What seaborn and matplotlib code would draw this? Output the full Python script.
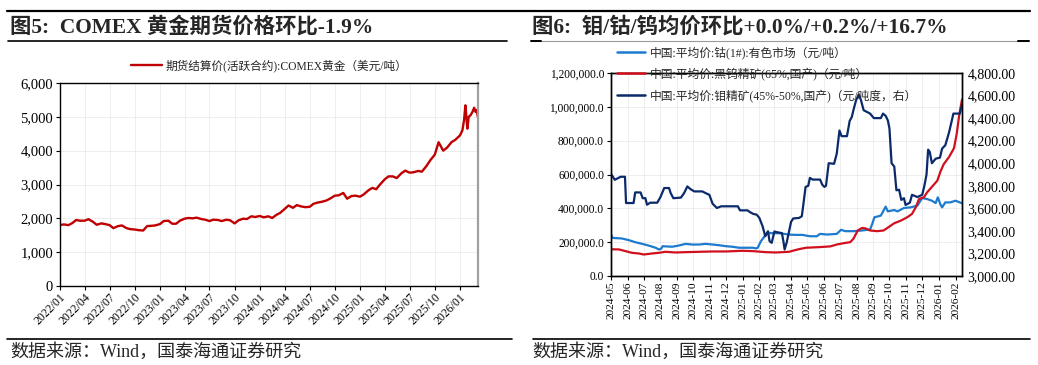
import matplotlib
matplotlib.use('Agg')
import matplotlib.pyplot as plt
import matplotlib.dates as mdates
from matplotlib.lines import Line2D
from matplotlib.ticker import FuncFormatter, MultipleLocator
import seaborn as sns
import pandas as pd

# --- Data: COMEX gold futures (readings at 1st / 15th of month, denser in 2026) ---
gold_dates = list(pd.date_range('2022-01-01', '2025-12-15', freq='SMS')) + list(pd.to_datetime([
    '2026-01-01', '2026-01-10', '2026-01-16', '2026-01-21', '2026-01-25', '2026-01-28', '2026-02-02',
    '2026-02-09', '2026-02-16', '2026-02-22', '2026-02-27', '2026-03-03', '2026-03-08']))
gold_vals = [
    1800, 1820, 1800, 1860, 1950, 1930, 1930, 1975, 1900, 1810, 1850, 1830,
    1800, 1710, 1770, 1790, 1710, 1680, 1670, 1650, 1640, 1770, 1780, 1790,   # 2022
    1830, 1920, 1930, 1840, 1840, 1930, 1990, 2010, 2000, 2020, 1980, 1960,
    1920, 1960, 1950, 1920, 1960, 1940, 1850, 1940, 1990, 1980, 2060, 2040,   # 2023
    2070, 2030, 2060, 2010, 2100, 2160, 2280, 2380, 2310, 2390, 2350, 2330,
    2340, 2430, 2470, 2490, 2530, 2590, 2670, 2680, 2750, 2580, 2660, 2670,   # 2024
    2640, 2710, 2830, 2900, 2860, 3000, 3150, 3240, 3240, 3190, 3330, 3410,
    3350, 3360, 3400, 3380, 3550, 3720, 3880, 4250, 4000, 4090, 4250, 4320,   # 2025
    4450, 4600, 4900, 5340, 4950, 4650, 5000, 5050, 5150, 5270, 5150, 5200, 4980,
]
gold_label = '期货结算价(活跃合约):COMEX黄金（美元/吨）'

# --- Data: cobalt / tungsten (yuan per ton, left axis), molybdenum (right axis) ---
cobalt_dates = [
    '2024-05-01', '2024-05-04', '2024-05-21', '2024-06-03', '2024-06-15', '2024-06-28', '2024-07-10',
    '2024-07-23', '2024-07-29', '2024-08-02', '2024-08-05', '2024-08-23', '2024-09-04', '2024-09-17',
    '2024-09-29', '2024-10-12', '2024-10-24', '2024-11-06', '2024-11-18', '2024-12-01', '2024-12-13',
    '2024-12-25', '2025-01-07', '2025-01-20', '2025-01-26', '2025-01-29', '2025-02-04', '2025-02-13',
    '2025-02-20', '2025-02-24', '2025-03-10', '2025-03-28', '2025-04-10', '2025-04-22', '2025-05-06',
    '2025-05-19', '2025-05-25', '2025-06-07', '2025-06-25', '2025-07-03', '2025-07-11', '2025-07-26',
    '2025-08-11', '2025-08-26', '2025-08-30', '2025-09-03', '2025-09-15', '2025-09-24', '2025-09-28',
    '2025-10-10', '2025-10-16', '2025-10-28', '2025-11-10', '2025-11-22', '2025-12-01', '2025-12-10',
    '2025-12-19', '2025-12-26', '2025-12-30', '2026-01-04', '2026-01-07', '2026-01-13', '2026-01-22',
    '2026-02-01', '2026-02-13']
cobalt_vals = [
    245000, 225000, 222000, 212000, 200000, 190000, 180000, 167000, 157000, 160000,
    176000, 173000, 180000, 190000, 186000, 186000, 190000, 186000, 182000, 176000,
    173000, 167000, 167000, 167000, 163000, 167000, 206000, 245000, 255000, 253000,
    253000, 245000, 243000, 243000, 235000, 235000, 249000, 245000, 249000, 273000,
    265000, 265000, 269000, 275000, 308000, 347000, 357000, 410000, 382000, 390000,
    382000, 402000, 406000, 416000, 461000, 455000, 445000, 431000, 465000, 422000,
    406000, 435000, 435000, 445000, 430000]

tungsten_dates = [
    '2024-05-01', '2024-05-16', '2024-05-28', '2024-06-09', '2024-06-22', '2024-07-01', '2024-07-16',
    '2024-07-29', '2024-08-10', '2024-08-29', '2024-09-17', '2024-10-12', '2024-11-06', '2024-12-01',
    '2025-01-01', '2025-01-20', '2025-02-13', '2025-03-04', '2025-03-28', '2025-04-16', '2025-04-29',
    '2025-05-25', '2025-06-13', '2025-06-25', '2025-07-08', '2025-07-20', '2025-07-26', '2025-08-03',
    '2025-08-11', '2025-08-17', '2025-08-26', '2025-09-08', '2025-09-20', '2025-09-29', '2025-10-10',
    '2025-10-22', '2025-11-03', '2025-11-12', '2025-11-19', '2025-11-25', '2025-12-04', '2025-12-10',
    '2025-12-19', '2025-12-29', '2026-01-04', '2026-01-10', '2026-01-20', '2026-01-29', '2026-02-03',
    '2026-02-08', '2026-02-13']
tungsten_vals = [
    158000, 157000, 147000, 137000, 133000, 127000, 133000, 137000, 143000, 139000,
    141000, 143000, 145000, 145000, 149000, 147000, 141000, 139000, 143000, 159000,
    167000, 171000, 175000, 186000, 194000, 200000, 220000, 269000, 284000, 282000,
    269000, 265000, 269000, 288000, 312000, 327000, 347000, 367000, 406000, 455000,
    465000, 494000, 527000, 563000, 618000, 661000, 704000, 755000, 837000, 955000, 1043000]

moly_dates = [
    '2024-05-01', '2024-05-08', '2024-05-19', '2024-05-27', '2024-05-29', '2024-06-12', '2024-06-15',
    '2024-06-25', '2024-06-29', '2024-07-04', '2024-07-07', '2024-07-13', '2024-07-26', '2024-08-01',
    '2024-08-08', '2024-08-17', '2024-08-20', '2024-08-25', '2024-09-08', '2024-09-14', '2024-09-20',
    '2024-09-26', '2024-10-03', '2024-10-18', '2024-10-24', '2024-10-31', '2024-11-06', '2024-11-14',
    '2024-11-22', '2024-12-23', '2024-12-27', '2025-01-10', '2025-01-15', '2025-01-21', '2025-01-27',
    '2025-02-01', '2025-02-07', '2025-02-12', '2025-02-17', '2025-02-20', '2025-02-24', '2025-03-01',
    '2025-03-04', '2025-03-15', '2025-03-18', '2025-03-20', '2025-03-24', '2025-03-28', '2025-04-01',
    '2025-04-05', '2025-04-16', '2025-04-21', '2025-04-24', '2025-04-28', '2025-05-03', '2025-05-06',
    '2025-05-11', '2025-05-25', '2025-05-29', '2025-06-02', '2025-06-05', '2025-06-10', '2025-06-20',
    '2025-06-25', '2025-06-30', '2025-07-04', '2025-07-14', '2025-07-19', '2025-07-23', '2025-07-26',
    '2025-07-31', '2025-08-05', '2025-08-09', '2025-08-14', '2025-08-20', '2025-08-26', '2025-09-02',
    '2025-09-15', '2025-09-19', '2025-09-24', '2025-09-28', '2025-10-01', '2025-10-05', '2025-10-10',
    '2025-10-14', '2025-10-19', '2025-10-23', '2025-10-28', '2025-10-31', '2025-11-08', '2025-11-12',
    '2025-11-22', '2025-12-01', '2025-12-05', '2025-12-09', '2025-12-12', '2025-12-15', '2025-12-19',
    '2025-12-26', '2026-01-03', '2026-01-07', '2026-01-13', '2026-01-20', '2026-01-28', '2026-02-09',
    '2026-02-13']
moly_vals = [
    3906, 3853, 3880, 3880, 3647, 3647, 3741, 3741, 3690, 3690,
    3632, 3650, 3650, 3700, 3780, 3780, 3735, 3690, 3695, 3735,
    3794, 3770, 3750, 3750, 3735, 3720, 3641, 3603, 3618, 3618,
    3582, 3582, 3565, 3550, 3544, 3515, 3441, 3353, 3397, 3309,
    3294, 3395, 3390, 3380, 3300, 3235, 3300, 3390, 3480, 3510,
    3515, 3530, 3640, 3790, 3800, 3870, 3855, 3855, 3810, 3790,
    3800, 4000, 3995, 4085, 4290, 4240, 4240, 4375, 4410, 4470,
    4560, 4610, 4560, 4470, 4455, 4440, 4400, 4400, 4440, 4420,
    4380, 4310, 4000, 3970, 3760, 3765, 3675, 3690, 3630, 3650,
    3720, 3700, 3720, 3800, 3900, 4120, 4100, 4000, 4040, 4050,
    4130, 4160, 4275, 4440, 4440, 4520]

cobalt_label = '中国:平均价:钴(1#):有色市场（元/吨）'
tungsten_label = '中国:平均价:黑钨精矿(65%,国产)（元/吨）'
moly_label = '中国:平均价:钼精矿(45%-50%,国产)（元/吨度，右）'

title_left = '图5:  COMEX 黄金期货价格环比-1.9%'
title_right = '图6:  钼/钴/钨均价环比+0.0%/+0.2%/+16.7%'
source_text = '数据来源：Wind，国泰海通证券研究'

# --- Style ---
sns.set_theme(style='white')
FONTS = ['Liberation Serif', 'Noto Sans CJK SC']
plt.rcParams['font.family'] = FONTS
plt.rcParams['axes.unicode_minus'] = False

W, H = 1038, 365
fig = plt.figure(figsize=(W / 100, H / 100), dpi=100)


def fx(px):
    return px / W


def fy(py):
    return 1 - py / H


ax1 = fig.add_axes([fx(60), fy(286), fx(478) - fx(60), fy(83) - fy(286)])
ax2 = fig.add_axes([fx(611), fy(276), fx(962) - fx(611), fy(73) - fy(276)])
ax3 = ax2.twinx()

GRID = '#ebebeb'

# ── Left: COMEX gold
sns.lineplot(x=gold_dates, y=gold_vals, ax=ax1, color='#C00000', linewidth=1.7, label=gold_label)
ax1.set_xlim(pd.Timestamp('2022-01-01'), pd.Timestamp('2026-03-08'))
ax1.set_ylim(0, 6000)
ax1.yaxis.set_major_locator(MultipleLocator(1000))
ax1.yaxis.set_major_formatter(FuncFormatter(lambda v, p: f'{v:,.0f}'))
ax1.xaxis.set_major_locator(mdates.MonthLocator(bymonth=[1, 4, 7, 10]))
ax1.xaxis.set_major_formatter(mdates.DateFormatter('%Y/%m'))
ax1.grid(True, color=GRID, linewidth=0.6)
ax1.tick_params(axis='both', direction='out', length=3, width=0.8, colors='black',
                bottom=True, left=True)
ax1.tick_params(axis='y', labelsize=10.5, pad=2)
ax1.tick_params(axis='x', labelsize=8.5, pad=1)
for lab in ax1.get_xticklabels():
    lab.set_rotation(45)
    lab.set_ha('right')
    lab.set_rotation_mode('anchor')
for side in ['left', 'bottom', 'top']:
    ax1.spines[side].set_color('black')
    ax1.spines[side].set_linewidth(1.0)
ax1.spines['right'].set_color('#a0a0a0')
ax1.spines['right'].set_linewidth(1.6)
ax1.set_xlabel('')
ax1.set_ylabel('')
ax1.legend(loc='lower center', bbox_to_anchor=(0.5, 1.0), frameon=False,
           prop={'family': FONTS, 'size': 8.4}, handlelength=2.6, handletextpad=0.3)

# ── Right: cobalt / tungsten / molybdenum
sns.lineplot(x=pd.to_datetime(cobalt_dates), y=cobalt_vals, ax=ax2, color='#1C7BCF', linewidth=1.6)
sns.lineplot(x=pd.to_datetime(tungsten_dates), y=tungsten_vals, ax=ax2, color='#D0101C', linewidth=1.6)
sns.lineplot(x=pd.to_datetime(moly_dates), y=moly_vals, ax=ax3, color='#0B2A6B', linewidth=1.6)

ax2.set_xlim(pd.Timestamp('2024-05-01'), pd.Timestamp('2026-02-13'))
ax2.set_ylim(0, 1200000)
ax3.set_ylim(3000, 4800)
ax2.yaxis.set_major_locator(MultipleLocator(200000))
ax3.yaxis.set_major_locator(MultipleLocator(200))
ax2.yaxis.set_major_formatter(FuncFormatter(lambda v, p: f'{v:,.1f}'))
ax3.yaxis.set_major_formatter(FuncFormatter(lambda v, p: f'{v:,.2f}'))
ax2.xaxis.set_major_locator(mdates.MonthLocator())
ax2.xaxis.set_major_formatter(mdates.DateFormatter('%Y-%m'))
ax2.grid(True, color=GRID, linewidth=0.6)
ax2.tick_params(axis='both', direction='out', length=3, width=0.8, colors='black',
                bottom=True, left=True)
ax2.tick_params(axis='y', labelsize=8.3, pad=2)
ax2.tick_params(axis='x', labelsize=8.2, pad=1, rotation=90)
ax3.tick_params(axis='y', labelsize=10, pad=4, length=0, colors='black', right=True)
for a in (ax2, ax3):
    for side in a.spines:
        a.spines[side].set_color('black')
        a.spines[side].set_linewidth(1.0)
    a.set_xlabel('')
    a.set_ylabel('')

handles = [Line2D([], [], color='#1C7BCF', lw=1.8),
           Line2D([], [], color='#D0101C', lw=1.8),
           Line2D([], [], color='#0B2A6B', lw=1.8)]
fig.legend(handles, [cobalt_label, tungsten_label, moly_label], loc='upper left',
           bbox_to_anchor=(fx(617), fy(46)), frameon=False, prop={'family': FONTS, 'size': 8.5},
           labelspacing=0.72, handlelength=2.4, handletextpad=0.4, borderpad=0, borderaxespad=0)

# ── Header / footer rules and text
fig.add_artist(Line2D([fx(7), fx(1030)], [fy(11), fy(11)], color='black', lw=1.6))
fig.add_artist(Line2D([fx(8), fx(507)], [fy(41), fy(41)], color='black', lw=1.2))
fig.add_artist(Line2D([fx(531), fx(1029)], [fy(41), fy(41)], color='#9a9a9a', lw=0.8))
fig.add_artist(Line2D([fx(531), fx(541)], [fy(41), fy(41)], color='black', lw=1.4))
fig.add_artist(Line2D([fx(1018), fx(1029)], [fy(41), fy(41)], color='black', lw=1.4))
fig.add_artist(Line2D([fx(7), fx(512)], [fy(339), fy(339)], color='black', lw=1.2))
fig.add_artist(Line2D([fx(533), fx(1030)], [fy(339), fy(339)], color='black', lw=1.2))

fig.text(fx(10), fy(27), title_left, fontsize=15.4, fontweight='bold', va='center', family=FONTS)
fig.text(fx(532), fy(27), title_right, fontsize=15.4, fontweight='bold', va='center', family=FONTS)
fig.text(fx(10), fy(352), source_text, fontsize=13, va='center', family=FONTS)
fig.text(fx(532), fy(352), source_text, fontsize=13, va='center', family=FONTS)

fig.savefig('out.png', dpi=100)
plt.close(fig)
